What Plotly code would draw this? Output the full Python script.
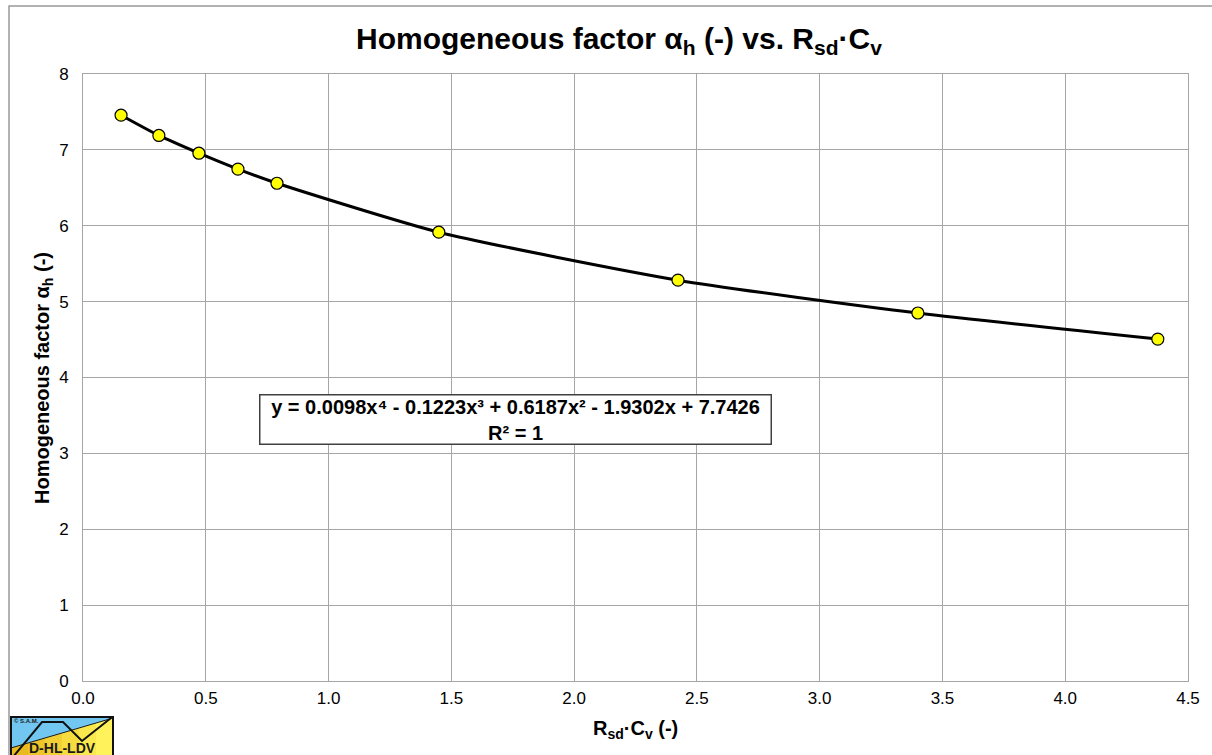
import plotly.graph_objects as go

# Data
rsd_cv = [0.155, 0.309, 0.472, 0.631, 0.790, 1.449, 2.423, 3.400, 4.377]
alpha_h = [7.457, 7.190, 6.956, 6.746, 6.560, 5.915, 5.283, 4.850, 4.506]
x_ticks = [0.0, 0.5, 1.0, 1.5, 2.0, 2.5, 3.0, 3.5, 4.0, 4.5]
y_ticks = [0, 1, 2, 3, 4, 5, 6, 7, 8]
equation_text = "y = 0.0098x⁴ - 0.1223x³ + 0.6187x² - 1.9302x + 7.7426<br>R² = 1"

W, H = 1212, 755
L, R, T, B = 83, 1188, 74, 681
FONT = "Liberation Sans, Arial, sans-serif"

def px(x):
    return (x - L) / (R - L)

def py(y):
    return (B - y) / (B - T)

fig = go.Figure()
fig.add_trace(go.Scatter(
    x=rsd_cv, y=alpha_h, mode="lines",
    line=dict(color="black", width=3, shape="spline", smoothing=0.6),
    showlegend=False, hoverinfo="skip"))
fig.add_trace(go.Scatter(
    x=rsd_cv, y=alpha_h, mode="markers",
    marker=dict(color="#FFFF00", size=12, line=dict(color="black", width=1.2)),
    showlegend=False))

grid = "#A6A6A6"
fig.update_layout(
    width=W, height=H,
    margin=dict(l=L, r=W - R, t=T, b=H - B),
    paper_bgcolor="white", plot_bgcolor="white",
    font=dict(family=FONT, color="black", size=17),
    xaxis=dict(range=[0, 4.5], tickvals=x_ticks,
               ticktext=[f"{v:.1f}" for v in x_ticks],
               showgrid=True, gridcolor=grid, gridwidth=1,
               showline=True, linecolor=grid, linewidth=1, mirror=True,
               zeroline=False, ticks="", ticklabelstandoff=2,
               tickfont=dict(size=17, family=FONT)),
    yaxis=dict(range=[0, 8], tickvals=y_ticks,
               showgrid=True, gridcolor=grid, gridwidth=1,
               showline=True, linecolor=grid, linewidth=1, mirror=True,
               zeroline=False, ticks="", ticklabelstandoff=10,
               tickfont=dict(size=17, family=FONT)),
)

annotations = [
    dict(text="<b>Homogeneous factor α<sub>h</sub> (-) vs. R<sub>sd</sub>·C<sub>v</sub></b>",
         x=px(619), y=py(40), xref="paper", yref="paper", showarrow=False,
         xanchor="center", yanchor="middle", font=dict(size=30, family=FONT)),
    dict(text="<b>R<sub>sd</sub>·C<sub>v</sub> (-)</b>",
         x=px(635), y=py(729), xref="paper", yref="paper", showarrow=False,
         xanchor="center", yanchor="middle", font=dict(size=20, family=FONT)),
    dict(text="<b>Homogeneous factor α<sub>h</sub> (-)</b>",
         x=px(43), y=py(378), xref="paper", yref="paper", showarrow=False,
         textangle=-90, xanchor="center", yanchor="middle", font=dict(size=20, family=FONT)),
    dict(text="<b>" + equation_text + "</b>",
         x=px(515), y=py(419), xref="paper", yref="paper", showarrow=False,
         xanchor="center", yanchor="middle", align="center",
         bgcolor="white", bordercolor="#404040", borderwidth=1.5, borderpad=1,
         width=508, height=46, font=dict(size=20, family=FONT)),
    dict(text="<b>D-HL-LDV</b>", x=px(62), y=py(748), xref="paper", yref="paper",
         showarrow=False, xanchor="center", yanchor="middle",
         font=dict(size=14, family=FONT, color="#1a1a1a")),
    dict(text="<b>© S.A.M.</b>", x=px(12), y=py(721), xref="paper", yref="paper",
         showarrow=False, xanchor="left", yanchor="middle",
         font=dict(size=6, family=FONT, color="#1a1a1a")),
]
fig.update_layout(annotations=annotations)

def ppath(points, close=True):
    s = "M " + " L ".join(f"{px(x):.5f},{py(y):.5f}" for x, y in points)
    return s + (" Z" if close else "")

shapes = [
    # outer chart border
    dict(type="rect", xref="paper", yref="paper", x0=px(9), y0=py(6), x1=px(1216), y1=py(760),
         line=dict(color="#999999", width=1.5), fillcolor="rgba(0,0,0,0)", layer="below"),
]
# logo: yellow gradient strips
yell = ["#E8BA1E", "#EDC52A", "#F2D034", "#F7DC40", "#FBE84C", "#FFF25A"]
x0, x1 = 11, 113
step = (x1 - x0) / len(yell)
for i, c in enumerate(yell):
    shapes.append(dict(type="rect", xref="paper", yref="paper",
                       x0=px(x0 + i * step), x1=px(x0 + (i + 1) * step + 0.5),
                       y0=py(717), y1=py(757), fillcolor=c, line=dict(width=0)))
# blue triangle top
shapes.append(dict(type="path", xref="paper", yref="paper",
                   path=ppath([(11, 717), (113, 717), (113, 718), (11, 748)]),
                   fillcolor="#72C7F0", line=dict(width=0)))
# diagonal line
shapes.append(dict(type="path", xref="paper", yref="paper",
                   path=ppath([(11, 748), (113, 718)], close=False),
                   line=dict(color="#1a1a1a", width=1)))
# black polyline
shapes.append(dict(type="path", xref="paper", yref="paper",
                   path=ppath([(13, 757), (42, 722), (63, 722), (82, 741), (111, 718)], close=False),
                   line=dict(color="#111111", width=2)))
# logo border
shapes.append(dict(type="rect", xref="paper", yref="paper", x0=px(11), y0=py(717), x1=px(113), y1=py(758),
                   line=dict(color="#111111", width=2), fillcolor="rgba(0,0,0,0)"))
fig.update_layout(shapes=shapes)

fig.write_html("out.html", config={"displayModeBar": False},
               post_script="document.body.style.margin='0';document.body.style.overflow='hidden';")
